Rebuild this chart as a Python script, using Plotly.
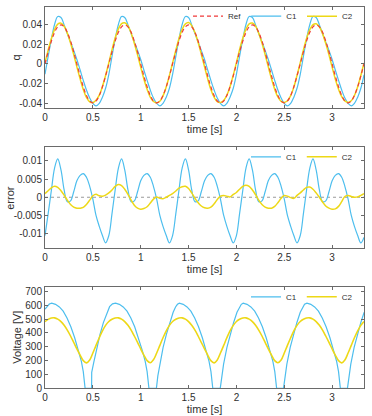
import plotly.graph_objects as go

# ---------------- data ----------------
t = [0, 0.033, 0.067, 0.1, 0.133, 0.167, 0.2, 0.233, 0.267, 0.3,
     0.333, 0.367, 0.4, 0.433, 0.467, 0.5, 0.533, 0.567, 0.6, 0.633,
     0.667, 0.7, 0.733, 0.767, 0.8, 0.833, 0.867, 0.9, 0.933, 0.967,
     1.0, 1.033, 1.067, 1.1, 1.133, 1.167, 1.2, 1.233, 1.267, 1.3,
     1.333, 1.367, 1.4, 1.433, 1.467, 1.5, 1.533, 1.567, 1.6, 1.633,
     1.667, 1.7, 1.733, 1.767, 1.8, 1.833, 1.867, 1.9, 1.933, 1.967,
     2.0, 2.033, 2.067, 2.1, 2.133, 2.167, 2.2, 2.233, 2.267, 2.3,
     2.333, 2.367, 2.4, 2.433, 2.467, 2.5, 2.533, 2.567, 2.6, 2.633,
     2.667, 2.7, 2.733, 2.767, 2.8, 2.833, 2.867, 2.9, 2.933, 2.967,
     3.0, 3.033, 3.067, 3.1, 3.133, 3.167, 3.2, 3.233, 3.267, 3.3,
     3.333]

q_ref = [0, 0.0122, 0.0232, 0.032, 0.0376, 0.0395, 0.0376, 0.032, 0.0232, 0.0122,
         0, -0.0122, -0.0232, -0.032, -0.0376, -0.0395, -0.0376, -0.032, -0.0232, -0.0122,
         0, 0.0122, 0.0232, 0.032, 0.0376, 0.0395, 0.0376, 0.032, 0.0232, 0.0122,
         0, -0.0122, -0.0232, -0.032, -0.0376, -0.0395, -0.0376, -0.032, -0.0232, -0.0122,
         0, 0.0122, 0.0232, 0.032, 0.0376, 0.0395, 0.0376, 0.032, 0.0232, 0.0122,
         0, -0.0122, -0.0232, -0.032, -0.0376, -0.0395, -0.0376, -0.032, -0.0232, -0.0122,
         0, 0.0122, 0.0232, 0.032, 0.0376, 0.0395, 0.0376, 0.032, 0.0232, 0.0122,
         0, -0.0122, -0.0232, -0.032, -0.0376, -0.0395, -0.0376, -0.032, -0.0232, -0.0122,
         0, 0.0122, 0.0232, 0.032, 0.0376, 0.0395, 0.0376, 0.032, 0.0232, 0.0122,
         0, -0.0122, -0.0232, -0.032, -0.0376, -0.0395, -0.0376, -0.032, -0.0232, -0.0122,
         0]

q_c1 = [-0.0105, 0.0077, 0.0252, 0.040, 0.0481, 0.047, 0.0396, 0.0308, 0.0222, 0.0137,
        0.0045, -0.0062, -0.0167, -0.0265, -0.0346, -0.040, -0.0426, -0.040, -0.0337, -0.0247,
        -0.0105, 0.0077, 0.0252, 0.040, 0.0481, 0.047, 0.0396, 0.0308, 0.0222, 0.0137,
        0.0045, -0.0062, -0.0167, -0.0265, -0.0346, -0.040, -0.0426, -0.040, -0.0337, -0.0247,
        -0.0105, 0.0077, 0.0252, 0.040, 0.0481, 0.047, 0.0396, 0.0308, 0.0222, 0.0137,
        0.0045, -0.0062, -0.0167, -0.0265, -0.0346, -0.040, -0.0426, -0.040, -0.0337, -0.0247,
        -0.0105, 0.0077, 0.0252, 0.040, 0.0481, 0.047, 0.0396, 0.0308, 0.0222, 0.0137,
        0.0045, -0.0062, -0.0167, -0.0265, -0.0346, -0.040, -0.0426, -0.040, -0.0337, -0.0247,
        -0.0105, 0.0077, 0.0252, 0.040, 0.0481, 0.047, 0.0396, 0.0308, 0.0222, 0.0137,
        0.0045, -0.0062, -0.0167, -0.0265, -0.0346, -0.040, -0.0426, -0.040, -0.0337, -0.0247,
        -0.011]

q_c2 = [0.001, 0.014, 0.0258, 0.035, 0.0403, 0.0413, 0.0382, 0.0312, 0.0212, 0.0095,
        -0.003, -0.0152, -0.026, -0.034, -0.0384, -0.0391, -0.0368, -0.0316, -0.0229, -0.0116,
        0.0012, 0.0142, 0.0262, 0.0355, 0.0408, 0.0417, 0.0384, 0.0312, 0.021, 0.0092,
        -0.0033, -0.0153, -0.0258, -0.0336, -0.0381, -0.0394, -0.0379, -0.0324, -0.0232, -0.0117,
        0.001, 0.0139, 0.0257, 0.0349, 0.0406, 0.0419, 0.0388, 0.0317, 0.0217, 0.0098,
        -0.0029, -0.0152, -0.0259, -0.0338, -0.0382, -0.0392, -0.0371, -0.0317, -0.0231, -0.0114,
        0.0013, 0.0144, 0.0262, 0.0353, 0.0406, 0.0415, 0.0383, 0.0312, 0.0212, 0.0095,
        -0.003, -0.0152, -0.0257, -0.0335, -0.0379, -0.039, -0.0373, -0.0321, -0.0235, -0.0117,
        0.0012, 0.0142, 0.0259, 0.0348, 0.0398, 0.0407, 0.0376, 0.0307, 0.0208, 0.0092,
        -0.0033, -0.0154, -0.0257, -0.0332, -0.0374, -0.039, -0.0374, -0.032, -0.0231, -0.0117,
        0.001]

err_c1 = [-0.0105, -0.0045, 0.002, 0.008, 0.0105, 0.0075, 0.002, -0.0012, -0.001, 0.0015,
          0.0045, 0.006, 0.0065, 0.0055, 0.003, -0.0005, -0.005, -0.008, -0.0105, -0.0125,
          -0.0105, -0.0045, 0.002, 0.008, 0.0105, 0.0075, 0.002, -0.0012, -0.001, 0.0015,
          0.0045, 0.006, 0.0065, 0.0055, 0.003, -0.0005, -0.005, -0.008, -0.0105, -0.0125,
          -0.0105, -0.0045, 0.002, 0.008, 0.0105, 0.0075, 0.002, -0.0012, -0.001, 0.0015,
          0.0045, 0.006, 0.0065, 0.0055, 0.003, -0.0005, -0.005, -0.008, -0.0105, -0.0125,
          -0.0105, -0.0045, 0.002, 0.008, 0.0105, 0.0075, 0.002, -0.0012, -0.001, 0.0015,
          0.0045, 0.006, 0.0065, 0.0055, 0.003, -0.0005, -0.005, -0.008, -0.0105, -0.0125,
          -0.0105, -0.0045, 0.002, 0.008, 0.0105, 0.0075, 0.002, -0.0012, -0.001, 0.0015,
          0.0045, 0.006, 0.0065, 0.0055, 0.003, -0.0005, -0.005, -0.008, -0.0105, -0.0125,
          -0.011]

err_c2 = [0.001, 0.0018, 0.0026, 0.003, 0.0027, 0.0018, 0.0006, -0.0008, -0.002, -0.0027,
          -0.003, -0.003, -0.0028, -0.002, -0.0008, 0.0004, 0.0008, 0.0004, 0.0003, 0.0006,
          0.0012, 0.002, 0.003, 0.0035, 0.0032, 0.0022, 0.0008, -0.0008, -0.0022, -0.003,
          -0.0033, -0.0031, -0.0026, -0.0016, -0.0005, 0.0001, -0.0003, -0.0004, 0.0, 0.0005,
          0.001, 0.0017, 0.0025, 0.0029, 0.003, 0.0024, 0.0012, -0.0003, -0.0015, -0.0024,
          -0.0029, -0.003, -0.0027, -0.0018, -0.0006, 0.0003, 0.0005, 0.0003, 0.0001, 0.0008,
          0.0013, 0.0022, 0.003, 0.0033, 0.003, 0.002, 0.0007, -0.0008, -0.002, -0.0027,
          -0.003, -0.003, -0.0025, -0.0015, -0.0003, 0.0005, 0.0003, -0.0001, -0.0003, 0.0005,
          0.0012, 0.002, 0.0027, 0.0028, 0.0022, 0.0012, 0.0, -0.0013, -0.0024, -0.003,
          -0.0033, -0.0032, -0.0025, -0.0012, 0.0002, 0.0005, 0.0002, 0.0, 0.0001, 0.0005,
          0.001]

t_v1 = [0, 0.02, 0.045, 0.07, 0.11, 0.15, 0.19, 0.23, 0.27, 0.31, 0.35, 0.38, 0.40, 0.419,
        0.487, 0.488, 0.51, 0.54, 0.575, 0.61, 0.645, 0.675, 0.705, 0.737,
        0.777, 0.817, 0.857, 0.897, 0.937, 0.977, 1.017, 1.047, 1.067, 1.086,
        1.164, 1.179, 1.199, 1.234, 1.269, 1.304, 1.339, 1.364, 1.384, 1.404,
        1.444, 1.484, 1.524, 1.564, 1.604, 1.644, 1.684, 1.714, 1.734, 1.753,
        1.831, 1.846, 1.866, 1.901, 1.936, 1.971, 2.006, 2.031, 2.051, 2.071,
        2.111, 2.151, 2.191, 2.231, 2.271, 2.311, 2.351, 2.381, 2.401, 2.42,
        2.492, 2.507, 2.527, 2.562, 2.597, 2.632, 2.667, 2.692, 2.712, 2.737,
        2.777, 2.817, 2.857, 2.897, 2.937, 2.977, 3.017, 3.047, 3.067, 3.086,
        3.16, 3.175, 3.195, 3.23, 3.265, 3.30, 3.335]
v_c1 = [572, 592, 609, 615, 607, 588, 558, 508, 445, 365, 272, 195, 120, 0,
        0, 115, 190, 290, 390, 475, 545, 590, 610, 615,
        607, 588, 558, 508, 445, 365, 272, 195, 120, 0,
        0, 90, 175, 296, 392, 476, 550, 588, 607, 615,
        607, 588, 558, 508, 445, 365, 272, 195, 120, 0,
        0, 90, 175, 296, 392, 476, 550, 588, 607, 615,
        607, 588, 558, 508, 445, 365, 272, 195, 120, 0,
        0, 90, 175, 296, 392, 476, 550, 588, 607, 615,
        607, 588, 558, 508, 445, 365, 272, 195, 120, 0,
        0, 90, 175, 296, 392, 476, 550]

v_c2 = [481, 498, 508, 509, 500, 482, 455, 420, 378, 332,
        285, 240, 200, 184, 205, 255, 310, 365, 415, 455,
        483, 499, 508, 509, 500, 482, 455, 420, 378, 332,
        285, 240, 200, 185, 206, 255, 310, 365, 415, 455,
        483, 499, 508, 509, 500, 482, 455, 420, 378, 332,
        285, 240, 200, 184, 205, 255, 310, 365, 415, 455,
        483, 499, 508, 509, 500, 482, 455, 420, 378, 332,
        285, 240, 200, 185, 205, 255, 310, 365, 415, 455,
        483, 499, 508, 509, 500, 482, 455, 420, 378, 332,
        285, 240, 200, 184, 205, 255, 310, 365, 415, 455,
        482]

x_ticks = [0, 0.5, 1, 1.5, 2, 2.5, 3]
x_labels = ["0", "0.5", "1", "1.5", "2", "2.5", "3"]
q_ticks = [-0.04, -0.02, 0, 0.02, 0.04]
q_labels = ["-0.04", "-0.02", "0", "0.02", "0.04"]
e_ticks = [-0.01, -0.005, 0, 0.005, 0.01]
e_labels = ["-0.01", "-0.005", "0", "0.005", "0.01"]
v_ticks = [0, 100, 200, 300, 400, 500, 600, 700]
v_labels = ["0", "100", "200", "300", "400", "500", "600", "700"]
y_titles = ["q", "error", "Voltage [V]"]

# ---------------- style ----------------
BLUE = "#4DBEEE"
YELLOW = "#EDD817"
RED = "#F03A3A"
AX = "#6a6a6a"
TXT = "#303030"
FONT = "Liberation Sans, Arial, sans-serif"

fig = go.Figure()

# panel 1
fig.add_trace(go.Scatter(x=t, y=q_c1, name="C1", mode="lines", line=dict(color=BLUE, width=1.2, shape="spline"),
                         xaxis="x", yaxis="y", legend="legend", legendrank=2))
fig.add_trace(go.Scatter(x=t, y=q_c2, name="C2", mode="lines", line=dict(color=YELLOW, width=1.5, shape="spline"),
                         xaxis="x", yaxis="y", legend="legend", legendrank=3))
fig.add_trace(go.Scatter(x=t, y=q_ref, name="Ref", mode="lines",
                         line=dict(color=RED, width=1.2, dash="4px,3px", shape="spline"),
                         xaxis="x", yaxis="y", legend="legend", legendrank=1))
# panel 2
fig.add_trace(go.Scatter(x=t, y=err_c1, name="C1", mode="lines", line=dict(color=BLUE, width=1.2, shape="spline"),
                         xaxis="x2", yaxis="y2", legend="legend2", legendrank=1))
fig.add_trace(go.Scatter(x=t, y=err_c2, name="C2", mode="lines", line=dict(color=YELLOW, width=1.5, shape="spline"),
                         xaxis="x2", yaxis="y2", legend="legend2", legendrank=2))
# panel 3
fig.add_trace(go.Scatter(x=t_v1, y=v_c1, name="C1", mode="lines", line=dict(color=BLUE, width=1.2),
                         xaxis="x3", yaxis="y3", legend="legend3", legendrank=1))
fig.add_trace(go.Scatter(x=t, y=v_c2, name="C2", mode="lines", line=dict(color=YELLOW, width=1.6, shape="spline"),
                         xaxis="x3", yaxis="y3", legend="legend3", legendrank=2))

fig.add_shape(type="line", xref="x2 domain", x0=0, x1=1, yref="y2", y0=0, y1=0,
              line=dict(color="#9a9a9a", width=1.2, dash="dot"), layer="below")

XD = [45 / 372, 364 / 372]
doms = [[1 - 108.3 / 416, 1 - 6.7 / 416],
        [1 - 248.3 / 416, 1 - 147.3 / 416],
        [1 - 388.3 / 416, 1 - 287.3 / 416]]
title_x = [15 / 372, 10 / 372, 17 / 372]

def xax(anchor):
    return dict(domain=XD, anchor=anchor, range=[0, 3.333], tickvals=x_ticks, ticktext=x_labels,
                showline=True, linecolor=AX, linewidth=1, mirror="ticks", ticks="inside", ticklen=3,
                tickcolor=AX, tickfont=dict(size=10, color=TXT, family=FONT), showgrid=False, zeroline=False,
                automargin=False,
                title=dict(text="time [s]", font=dict(size=11, color=TXT, family=FONT), standoff=1))

def yax(anchor, dom, rng, tv, tt):
    return dict(domain=dom, anchor=anchor, range=rng, tickvals=tv, ticktext=tt,
                showline=True, linecolor=AX, linewidth=1, mirror="ticks", ticks="inside", ticklen=3,
                tickcolor=AX, tickfont=dict(size=10, color=TXT, family=FONT), showgrid=False, zeroline=False,
                automargin=False)

def leg(ytop):
    return dict(orientation="h", x=358 / 372, xanchor="right", y=ytop + 5 / 416, yanchor="top",
                bgcolor="rgba(0,0,0,0)", font=dict(size=8, color=TXT, family=FONT),
                itemwidth=30, tracegroupgap=0)

for i, txt in enumerate(y_titles):
    fig.add_annotation(text=txt, xref="paper", yref="paper", x=title_x[i],
                       y=(doms[i][0] + doms[i][1]) / 2, textangle=-90, showarrow=False,
                       xanchor="center", yanchor="middle",
                       font=dict(size=11, color=TXT, family=FONT))

fig.update_layout(
    width=372, height=416, margin=dict(l=0, r=0, t=0, b=0, autoexpand=False),
    paper_bgcolor="white", plot_bgcolor="white",
    font=dict(family=FONT, color=TXT),
    xaxis=xax("y"), xaxis2=xax("y2"), xaxis3=xax("y3"),
    yaxis=yax("x", doms[0], [-0.045, 0.058], q_ticks, q_labels),
    yaxis2=yax("x2", doms[1], [-0.014, 0.0137], e_ticks, e_labels),
    yaxis3=yax("x3", doms[2], [0, 730], v_ticks, v_labels),
    legend=leg(doms[0][1]), legend2=leg(doms[1][1]), legend3=leg(doms[2][1]),
    showlegend=True,
)

fig.write_html("out.html", config={"displayModeBar": False},
               post_script="document.body.style.margin='0';")
